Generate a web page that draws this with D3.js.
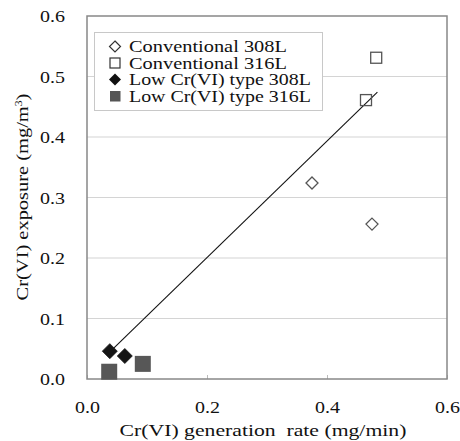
<!DOCTYPE html>
<html><head><meta charset="utf-8">
<script src="https://cdn.jsdelivr.net/npm/d3@7"></script>
<style>
html,body{margin:0;padding:0;background:#fff;}
svg{display:block;}
</style></head>
<body>
<script>
const seriesNames = ["Conventional 308L","Conventional 316L","Low Cr(VI) type 308L","Low Cr(VI) type 316L"];
const conv308L = [[0.375,0.324],[0.475,0.256]];
const conv316L = [[0.465,0.461],[0.482,0.531]];
const low308L = [[0.038,0.046],[0.063,0.038]];
const low316L = [[0.037,0.012],[0.093,0.025]];
const trendLine = [[0.033,0.040],[0.484,0.474]];
const xTicks = [0,0.2,0.4,0.6];
const yTicks = [0,0.1,0.2,0.3,0.4,0.5,0.6];
const xTitle = "Cr(VI) generation\u00a0 rate (mg/min)";

const FONT="Liberation Serif";
const W=460,H=441;
const svg=d3.select("body").append("svg").attr("width",W).attr("height",H);
const x=d3.scaleLinear().domain([0,0.6]).range([87,447]);
const y=d3.scaleLinear().domain([0,0.6]).range([379,16]);

function stretch(sel,w){
  sel.each(function(){
    const n=this.getComputedTextLength();
    const s=w/n;
    const xa=+(this.getAttribute("x")||0), ya=+(this.getAttribute("y")||0);
    this.setAttribute("x",0); this.setAttribute("y",0);
    const old=this.getAttribute("transform")||"";
    this.setAttribute("transform",`${old} translate(${xa},${ya}) scale(${s},1)`);
  });
}

// gridlines
svg.append("g").selectAll("line").data(yTicks.filter(d=>d>0&&d<0.6)).join("line")
  .attr("x1",x(0)).attr("x2",x(0.6)).attr("y1",d=>y(d)).attr("y2",d=>y(d))
  .attr("stroke","#d4d4d4").attr("stroke-width",1.2);

// axes
const xAxis=svg.append("g").attr("transform",`translate(0,${y(0)})`)
  .call(d3.axisBottom(x).tickValues(xTicks).tickFormat(d3.format(".1f")).tickSizeInner(-4).tickSizeOuter(0).tickPadding(22));
xAxis.attr("font-family",FONT).attr("font-size",17.5);
xAxis.select(".domain").remove();
xAxis.selectAll("line").attr("stroke","#bbb");
xAxis.selectAll("text").attr("fill","#111");
stretch(xAxis.selectAll("text"),25);
const yAxis=svg.append("g").attr("transform",`translate(${x(0)},0)`)
  .call(d3.axisLeft(y).tickValues(yTicks).tickFormat(d3.format(".1f")).tickSize(0).tickPadding(22));
yAxis.attr("font-family",FONT).attr("font-size",17.5);
yAxis.select(".domain").remove();
yAxis.selectAll("text").attr("fill","#111");
stretch(yAxis.selectAll("text"),25);

// border
svg.append("rect").attr("x",x(0)).attr("y",y(0.6)).attr("width",x(0.6)-x(0)).attr("height",y(0)-y(0.6))
  .attr("fill","none").attr("stroke","#888").attr("stroke-width",1.5);

// trend line
svg.append("path").datum(trendLine).attr("d",d3.line().x(d=>x(d[0])).y(d=>y(d[1])))
  .attr("stroke","#111").attr("stroke-width",1.1).attr("fill","none");

const diamond=(s)=>`M0,${-s}L${s},0L0,${s}L${-s},0Z`;
// markers
svg.append("g").selectAll("path").data(conv308L).join("path")
  .attr("transform",d=>`translate(${x(d[0])},${y(d[1])})`).attr("d",diamond(6))
  .attr("fill","#fff").attr("stroke","#555").attr("stroke-width",1.3);
svg.append("g").selectAll("rect").data(conv316L).join("rect")
  .attr("x",d=>x(d[0])-5.5).attr("y",d=>y(d[1])-5.5).attr("width",11).attr("height",11)
  .attr("fill","none").attr("stroke","#555").attr("stroke-width",1.3);
svg.append("g").selectAll("path").data(low308L).join("path")
  .attr("transform",d=>`translate(${x(d[0])},${y(d[1])})`).attr("d",diamond(7.5))
  .attr("fill","#151515").attr("stroke","#151515").attr("stroke-width",0.8);
svg.append("g").selectAll("rect").data(low316L).join("rect")
  .attr("x",d=>x(d[0])-8).attr("y",d=>y(d[1])-8).attr("width",16).attr("height",16)
  .attr("fill","#575757");

// legend
const lg=svg.append("g").attr("font-family",FONT).attr("font-size",17);
lg.append("rect").attr("x",94.5).attr("y",32.5).attr("width",228).attr("height",78)
  .attr("fill","#fff").attr("stroke","#c8c8c8").attr("stroke-width",1);
const lw=[158,158,182,182];
seriesNames.forEach((n,i)=>{
  const by=52+i*16.5, cy=by-5.5;
  if(i===0) lg.append("path").attr("transform",`translate(115,${cy})`).attr("d",diamond(5.5)).attr("fill","#fff").attr("stroke","#333").attr("stroke-width",1.2);
  if(i===1) lg.append("rect").attr("x",110).attr("y",cy-5).attr("width",10).attr("height",10).attr("fill","#fff").attr("stroke","#333").attr("stroke-width",1.2);
  if(i===2) lg.append("path").attr("transform",`translate(115,${cy})`).attr("d",diamond(6)).attr("fill","#111");
  if(i===3) lg.append("rect").attr("x",110).attr("y",cy-5).attr("width",10.5).attr("height",10.5).attr("fill","#555");
  const t=lg.append("text").attr("x",129).attr("y",by).attr("fill","#111").text(n);
  stretch(t,lw[i]);
});

// axis titles
const xt=svg.append("text").attr("x",263).attr("y",436).attr("text-anchor","middle")
  .attr("font-size",17.5).attr("font-family",FONT).attr("fill","#111").text(xTitle);
stretch(xt,287);
const yt=svg.append("text").attr("text-anchor","middle").attr("font-size",17.5)
  .attr("font-family",FONT).attr("fill","#111");
yt.append("tspan").text("Cr(VI) exposure (mg/m");
yt.append("tspan").attr("font-size",10).attr("dy",-6).text("3");
yt.append("tspan").attr("dy",6).text(")");
yt.attr("transform","translate(28,197) rotate(-90)");
stretch(yt,207);
</script>
</body></html>
